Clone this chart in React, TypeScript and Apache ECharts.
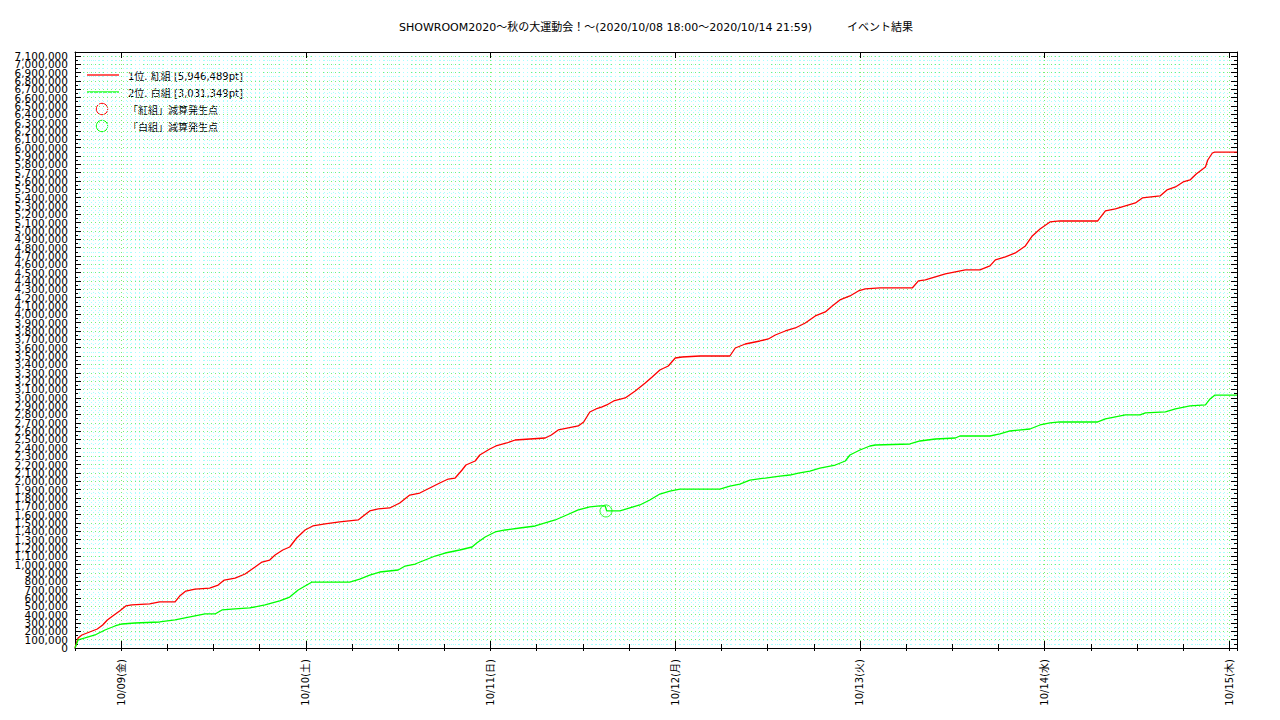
import React, { useEffect, useRef } from "react";
import * as echarts from "echarts";

// x = hours since 2020/10/08 18:00
const titleText =
  "SHOWROOM2020～秋の大運動会！～(2020/10/08 18:00～2020/10/14 21:59)\u00a0\u00a0\u00a0\u00a0\u00a0\u00a0\u00a0\u00a0\u00a0\u00a0イベント結果";
const seriesNames = ["1位. 紅組 [5,946,489pt]", "2位. 白組 [3,031,349pt]"];
const markNames = ["「紅組」減算発生点", "「白組」減算発生点"];
const dayTicks = [6, 30, 54, 78, 102, 126, 150];
const dayLabels = ["10/09(金)", "10/10(土)", "10/11(日)", "10/12(月)", "10/13(火)", "10/14(水)", "10/15(木)"];
const yTickValues = [0, 100000, 200000, 300000, 400000, 500000, 600000, 700000, 800000, 900000, 1000000, 1100000, 1200000, 1300000, 1400000, 1500000, 1600000, 1700000, 1800000, 1900000, 2000000, 2100000, 2200000, 2300000, 2400000, 2500000, 2600000, 2700000, 2800000, 2900000, 3000000, 3100000, 3200000, 3300000, 3400000, 3500000, 3600000, 3700000, 3800000, 3900000, 4000000, 4100000, 4200000, 4300000, 4400000, 4500000, 4600000, 4700000, 4800000, 4900000, 5000000, 5100000, 5200000, 5300000, 5400000, 5500000, 5600000, 5700000, 5800000, 5900000, 6000000, 6100000, 6200000, 6300000, 6400000, 6500000, 6600000, 6700000, 6800000, 6900000, 7000000, 7100000];

const redHours = [0, 0.4, 0.9, 1.9, 2.9, 3.6, 4.2, 4.9, 5.8, 6.6, 7.4, 9.7, 11.0, 13.0, 13.6, 14.4, 15.6, 17.5, 18.6, 19.4, 20.8, 22.1, 23.4, 24.3, 25.3, 26.0, 27.0, 27.9, 28.8, 29.9, 30.9, 32.5, 34.4, 36.8, 37.3, 38.3, 39.4, 40.9, 42.2, 43.5, 44.8, 46.1, 47.4, 48.5, 49.4, 50.3, 50.8, 52.0, 52.6, 53.9, 54.7, 56.1, 57.2, 59.1, 61.1, 61.9, 62.8, 64.1, 65.4, 66.1, 66.9, 67.7, 68.5, 69.1, 70.0, 71.5, 72.8, 74.1, 75.0, 76.0, 77.1, 78.0, 78.9, 81.2, 85.1, 85.8, 87.1, 89.0, 90.1, 91.0, 92.3, 93.6, 94.9, 96.2, 97.5, 98.4, 99.4, 100.7, 101.8, 102.7, 104.6, 108.8, 109.6, 110.5, 111.8, 113.1, 114.4, 115.7, 117.6, 118.9, 119.6, 120.9, 122.2, 123.5, 124.4, 125.4, 126.7, 128.0, 132.9, 133.9, 135.2, 136.5, 137.8, 138.7, 141.0, 141.9, 143.0, 144.0, 144.9, 145.7, 146.9, 147.2, 147.8, 148.1, 151.0];
const redValues = [0, 120000, 156000, 192000, 228000, 276000, 336000, 384000, 444000, 504000, 516000, 528000, 552000, 552000, 623000, 683000, 707000, 719000, 755000, 815000, 839000, 887000, 971000, 1031000, 1055000, 1115000, 1175000, 1211000, 1319000, 1415000, 1463000, 1487000, 1511000, 1535000, 1571000, 1643000, 1667000, 1679000, 1739000, 1834000, 1858000, 1918000, 1978000, 2026000, 2038000, 2134000, 2194000, 2242000, 2314000, 2386000, 2422000, 2458000, 2494000, 2506000, 2518000, 2554000, 2614000, 2638000, 2662000, 2710000, 2830000, 2866000, 2890000, 2914000, 2962000, 2998000, 3081000, 3177000, 3249000, 3333000, 3381000, 3477000, 3489000, 3501000, 3501000, 3597000, 3645000, 3681000, 3705000, 3753000, 3801000, 3837000, 3897000, 3981000, 4029000, 4101000, 4173000, 4221000, 4281000, 4305000, 4317000, 4317000, 4401000, 4413000, 4449000, 4485000, 4509000, 4533000, 4533000, 4581000, 4653000, 4689000, 4737000, 4821000, 4940000, 5024000, 5108000, 5120000, 5120000, 5240000, 5264000, 5300000, 5336000, 5396000, 5420000, 5492000, 5528000, 5588000, 5612000, 5683000, 5767000, 5851000, 5935000, 5946489, 5946489];

const whiteHours = [0, 0.4, 1.3, 2.6, 3.9, 5.2, 6.1, 7.8, 11.0, 13.0, 14.3, 15.6, 16.9, 18.2, 19.1, 20.8, 22.7, 24.7, 26.6, 27.9, 29.0, 29.9, 30.8, 35.7, 37.0, 38.3, 39.6, 42.0, 42.9, 44.2, 45.5, 46.8, 48.1, 50.0, 51.6, 52.2, 53.3, 54.6, 55.9, 57.8, 59.8, 61.1, 62.4, 63.9, 65.4, 66.9, 68.2, 68.9, 69.1, 70.8, 72.1, 73.4, 74.7, 76.0, 77.3, 78.6, 83.8, 85.1, 86.4, 87.7, 89.7, 91.6, 92.9, 94.0, 95.5, 96.8, 98.8, 100.1, 100.7, 102.0, 103.3, 104.0, 108.5, 109.8, 111.8, 114.4, 115.0, 118.9, 120.2, 121.5, 124.1, 125.4, 126.7, 128.0, 132.9, 133.9, 136.5, 138.4, 139.1, 141.7, 143.0, 144.9, 146.9, 147.5, 148.1, 151.0];
const whiteValues = [0, 96000, 120000, 156000, 216000, 264000, 288000, 300000, 312000, 336000, 360000, 384000, 408000, 408000, 456000, 468000, 480000, 516000, 564000, 611000, 695000, 743000, 791000, 791000, 827000, 875000, 911000, 935000, 983000, 1007000, 1055000, 1103000, 1139000, 1175000, 1211000, 1259000, 1331000, 1391000, 1415000, 1439000, 1463000, 1499000, 1535000, 1595000, 1655000, 1691000, 1703000, 1703000, 1643000, 1643000, 1679000, 1715000, 1775000, 1846000, 1882000, 1906000, 1906000, 1942000, 1966000, 2014000, 2038000, 2062000, 2074000, 2098000, 2122000, 2158000, 2194000, 2242000, 2314000, 2374000, 2422000, 2434000, 2446000, 2482000, 2506000, 2518000, 2542000, 2542000, 2566000, 2602000, 2626000, 2674000, 2698000, 2710000, 2710000, 2746000, 2794000, 2794000, 2818000, 2830000, 2866000, 2902000, 2914000, 2986000, 3031349, 3031349];

const redDropHours: number[] = [];
const redDropValues: number[] = [];
const whiteDropHours = [69.0];
const whiteDropValues = [1643000];

const X_MAX = 151;
const Y_MAX = 7146000;
const FONT = "DejaVu Sans, 'Noto Sans CJK JP', sans-serif";
const RED = "#ff0000";
const GREEN = "#00ff00";
const GRID_MAJOR = "#77f077";
const GRID_MINOR = "#a8ffff";

const zip = (a: number[], b: number[]) => a.map((v, i) => [v, b[i]]);

export default function App() {
  const ref = useRef<HTMLDivElement>(null);
  useEffect(() => {
    if (!ref.current) return;
    const chart = echarts.init(ref.current, null, { renderer: "svg" });
    const dotted = (color: string) => ({ show: true, lineStyle: { color, width: 1, type: [1, 3] as any } });
    const blackLine = { show: true, onZero: false, lineStyle: { color: "#000", width: 1 } };
    const baseX = { type: "value" as const, min: 0, max: X_MAX, gridIndex: 0 };
    const baseY = { type: "value" as const, min: 0, max: Y_MAX, interval: 100000 };
    const evenY = yTickValues.filter((_, i) => i % 2 === 0);
    const oddY = yTickValues.filter((_, i) => i % 2 === 1);
    const yLabel = (vals: number[]) => ({
      show: true, customValues: vals, margin: 7, color: "#000", fontSize: 10.5, lineHeight: 8, fontFamily: FONT,
      showMaxLabel: true, showMinLabel: true, hideOverlap: false,
      formatter: (v: number) => v.toLocaleString("en-US"),
    });
    const L = { left: 76, top: 57 };
    chart.setOption({
      animation: false,
      backgroundColor: "#fff",
      textStyle: { fontFamily: FONT },
      grid: { left: 75, right: 43, top: 52, bottom: 72, containLabel: false },
      xAxis: [
        {
          ...baseX, position: "bottom", interval: 6,
          axisLine: { show: false }, axisLabel: { show: false },
          axisTick: { show: true, inside: true, length: 4, lineStyle: { color: "#000" } },
          splitLine: dotted(GRID_MINOR),
          minorTick: { show: false, splitNumber: 10 },
          minorSplitLine: dotted(GRID_MINOR),
        },
        {
          ...baseX, position: "bottom",
          axisLine: blackLine,
          axisTick: { show: true, inside: true, length: 7, customValues: dayTicks, lineStyle: { color: "#000" } },
          axisLabel: {
            show: true, customValues: dayTicks, rotate: 90, margin: 11, color: "#000", fontSize: 10, fontFamily: FONT,
            formatter: (v: number) => dayLabels[dayTicks.indexOf(Math.round(v))] ?? "",
          },
          splitLine: dotted(GRID_MAJOR),
        },
        {
          ...baseX, position: "top",
          axisLine: blackLine, axisLabel: { show: false },
          axisTick: { show: true, inside: true, length: 6, customValues: dayTicks, lineStyle: { color: "#000" } },
          splitLine: { show: false },
        },
        {
          ...baseX, position: "top", interval: 6,
          axisLine: { show: false }, axisLabel: { show: false },
          axisTick: { show: true, inside: true, length: 3, lineStyle: { color: "#000" } },
          splitLine: { show: false },
        },
      ],
      yAxis: [
        {
          ...baseY, position: "left",
          axisLine: blackLine,
          axisTick: { show: true, inside: true, length: 6, lineStyle: { color: "#000" } },
          minorTick: { show: true, splitNumber: 2, length: 3, lineStyle: { color: "#000" } },
          axisLabel: yLabel(evenY),
          splitLine: dotted(GRID_MAJOR),
          minorSplitLine: dotted(GRID_MINOR),
        },
        {
          ...baseY, position: "right",
          axisLine: blackLine,
          axisTick: { show: true, inside: true, length: 6, lineStyle: { color: "#000" } },
          minorTick: { show: true, splitNumber: 2, length: 3, lineStyle: { color: "#000" } },
          axisLabel: { show: false },
          splitLine: { show: false },
        },
        {
          ...baseY, position: "left",
          axisLine: { show: false },
          axisTick: { show: false },
          axisLabel: yLabel(oddY),
          splitLine: { show: false },
        },
      ],
      series: [
        {
          name: seriesNames[0], type: "line", xAxisIndex: 1, yAxisIndex: 0,
          data: zip(redHours, redValues), showSymbol: false, smooth: false,
          lineStyle: { color: RED, width: 1.3 }, z: 5,
        },
        {
          name: seriesNames[1], type: "line", xAxisIndex: 1, yAxisIndex: 0,
          data: zip(whiteHours, whiteValues), showSymbol: false, smooth: false,
          lineStyle: { color: GREEN, width: 1.3 }, z: 5,
        },
        {
          name: markNames[0], type: "scatter", xAxisIndex: 1, yAxisIndex: 0,
          data: zip(redDropHours, redDropValues), symbol: "circle", symbolSize: 12,
          itemStyle: { color: "rgba(0,0,0,0)", borderColor: RED, borderWidth: 1 }, z: 6,
        },
        {
          name: markNames[1], type: "scatter", xAxisIndex: 1, yAxisIndex: 0,
          data: zip(whiteDropHours, whiteDropValues), symbol: "circle", symbolSize: 12,
          itemStyle: { color: "rgba(0,0,0,0)", borderColor: GREEN, borderWidth: 1 }, z: 6,
        },
      ],
      graphic: [
        {
          type: "text", x: 656, y: 27, z: 100,
          style: { text: titleText, fill: "#000", fontSize: 11, fontFamily: FONT, align: "center", verticalAlign: "middle" },
        },
        {
          type: "group", left: L.left, top: L.top, z: 100,
          children: [
            { type: "rect", shape: { x: 0, y: 0, width: 196, height: 85 }, style: { fill: "#fff" } },
            { type: "line", shape: { x1: 11, y1: 18, x2: 43, y2: 18 }, style: { stroke: RED, lineWidth: 1.3 } },
            { type: "line", shape: { x1: 11, y1: 35, x2: 43, y2: 35 }, style: { stroke: GREEN, lineWidth: 1.3 } },
            { type: "circle", shape: { cx: 26, cy: 52, r: 5.7 }, style: { fill: "#fff", stroke: RED, lineWidth: 1 } },
            { type: "circle", shape: { cx: 26, cy: 69, r: 5.7 }, style: { fill: "#fff", stroke: GREEN, lineWidth: 1 } },
            { type: "text", x: 52, y: 19, style: { text: seriesNames[0], fill: "#000", fontSize: 10, fontFamily: FONT, verticalAlign: "middle" } },
            { type: "text", x: 52, y: 36, style: { text: seriesNames[1], fill: "#000", fontSize: 10, fontFamily: FONT, verticalAlign: "middle" } },
            { type: "text", x: 52, y: 53, style: { text: markNames[0], fill: "#000", fontSize: 10, fontFamily: FONT, verticalAlign: "middle" } },
            { type: "text", x: 52, y: 70, style: { text: markNames[1], fill: "#000", fontSize: 10, fontFamily: FONT, verticalAlign: "middle" } },
          ],
        },
      ],
    });
    return () => chart.dispose();
  }, []);
  return <div ref={ref} style={{ position: "fixed", left: 0, top: 0, width: 1280, height: 720 }} />;
}
